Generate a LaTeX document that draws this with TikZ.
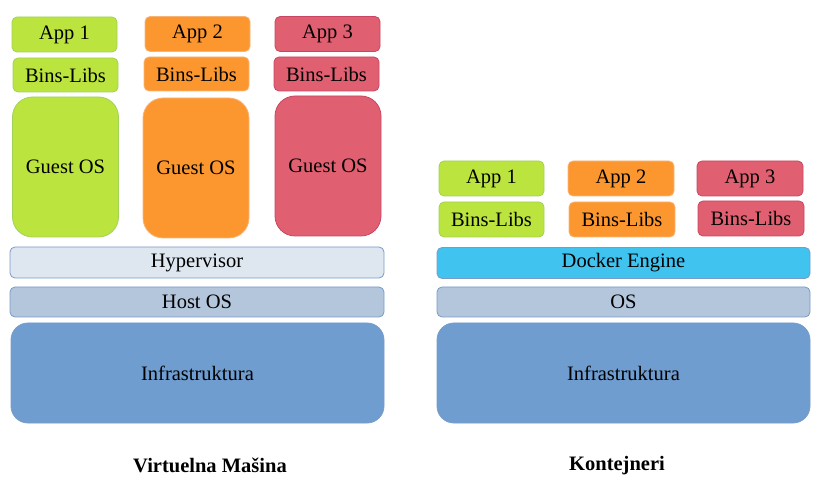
\documentclass[tikz,border=0pt]{standalone}
\usepackage{fontspec}
\setmainfont{Liberation Serif}
\definecolor{gfill}{RGB}{188,228,62}
\definecolor{gline}{RGB}{160,210,90}
\definecolor{ofill}{RGB}{252,151,48}
\definecolor{oline}{RGB}{248,180,120}
\definecolor{rfill}{RGB}{224,96,113}
\definecolor{rline}{RGB}{200,70,100}
\definecolor{hfill}{RGB}{222,230,240}
\definecolor{sfill}{RGB}{180,198,220}
\definecolor{ifill}{RGB}{111,157,207}
\definecolor{dfill}{RGB}{65,195,240}
\definecolor{bline}{RGB}{120,155,200}
\begin{document}
\begin{tikzpicture}[x=1pt,y=-1pt,
  box/.style={rectangle, rounded corners=5pt, draw, line width=0.8pt, inner sep=0pt, outer sep=0pt,
    font=\fontsize{20.5}{24}\selectfont, text=black},
  gbox/.style={box, fill=gfill, draw=gline},
  obox/.style={box, fill=ofill, draw=oline},
  rbox/.style={box, fill=rfill, draw=rline},
  small/.style={minimum width=105pt, minimum height=35pt},
  guest/.style={minimum width=106pt, minimum height=140pt, rounded corners=20pt},
  wide/.style={box, minimum width=374pt, minimum height=31pt, draw=bline},
  infra/.style={box, fill=ifill, draw=bline, minimum width=373pt, minimum height=100pt, rounded corners=17pt},
  title/.style={font=\fontsize{20.5}{24}\selectfont\bfseries, inner sep=0pt}]
\useasboundingbox (0,0) rectangle (823,481);
% Left: virtual machines
\node[gbox, small] (la1) at (64.5,34.5) {App 1};
\node[obox, small] (la2) at (197.5,34) {App 2};
\node[rbox, small] (la3) at (327.5,34) {App 3};
\node[gbox, small, minimum height=34pt] (lb1) at (65.5,75) {Bins-Libs};
\node[obox, small, minimum height=34pt] (lb2) at (196.5,74) {Bins-Libs};
\node[rbox, small, minimum height=34pt] (lb3) at (326.5,74) {Bins-Libs};
\node[gbox, guest] (lg1) at (65.5,167) {Guest OS};
\node[obox, guest] (lg2) at (196,168) {Guest OS};
\node[rbox, guest] (lg3) at (328,166) {Guest OS};
\node[wide, fill=hfill] (hyp) at (197,262.5) {Hypervisor};
\node[wide, fill=sfill, minimum height=30pt] (host) at (197,302) {Host OS};
\node[infra] (linfra) at (197.5,373) {Infrastruktura};
\node[title] (ltitle) at (210,465.5) {Virtuelna Mašina};
% Right: containers
\node[gbox, small] (ra1) at (491.5,178.5) {App 1};
\node[obox, small, minimum width=106pt] (ra2) at (621,178.5) {App 2};
\node[rbox, small, minimum width=106pt] (ra3) at (750,178.5) {App 3};
\node[gbox, small] (rb1) at (491.5,219.5) {Bins-Libs};
\node[obox, small, minimum width=106pt] (rb2) at (622,219.5) {Bins-Libs};
\node[rbox, small, minimum width=106pt] (rb3) at (751,218.5) {Bins-Libs};
\node[wide, fill=dfill, minimum width=373pt] (dock) at (623.5,263) {Docker Engine};
\node[wide, fill=sfill, minimum width=373pt, minimum height=30pt] (os) at (623.5,302) {OS};
\node[infra] (rinfra) at (623.5,373) {Infrastruktura};
\node[title] (rtitle) at (617,465.5) {Kontejneri};
\end{tikzpicture}
\end{document}
